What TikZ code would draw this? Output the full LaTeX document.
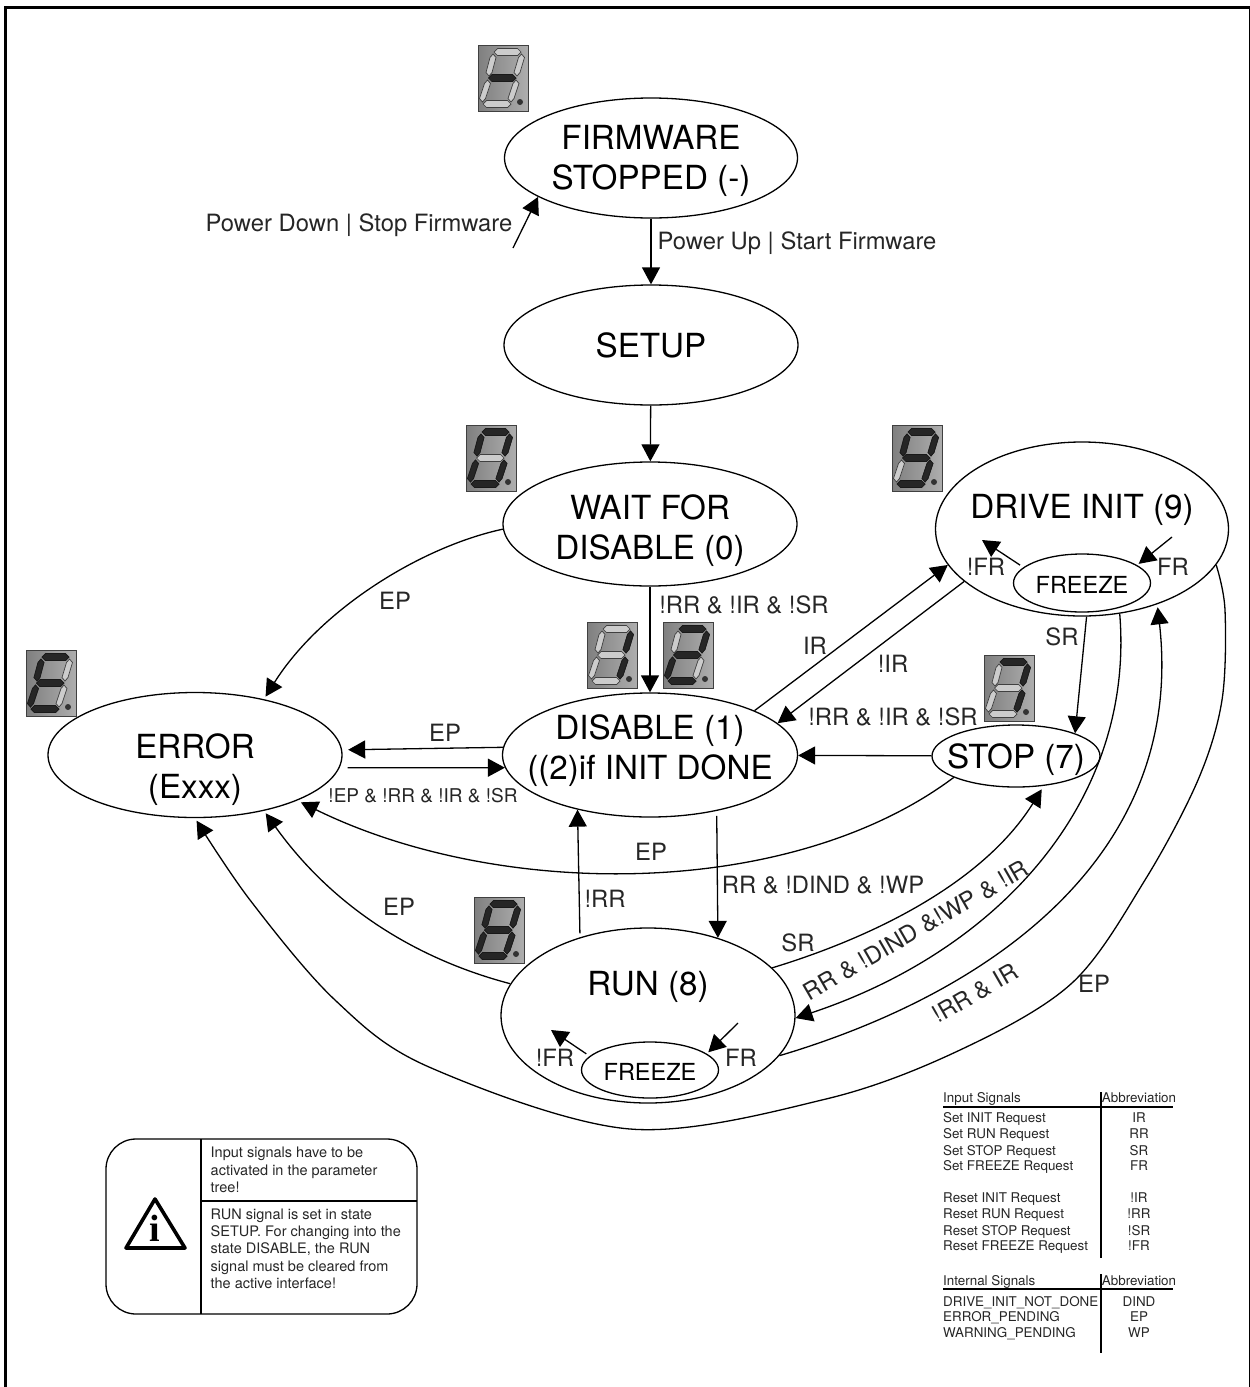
\documentclass[tikz,border=0pt]{standalone}
\usepackage{fontspec}
\setmainfont{TeX Gyre Heros}
\newfontfamily\infofont{Liberation Serif}
\usetikzlibrary{arrows.meta,shapes.geometric}

\newcommand{\statefont}{\fontsize{33.2}{40}\selectfont}
\newcommand{\frzfont}{\fontsize{23.5}{28}\selectfont}
\newcommand{\lblfont}{\fontsize{23.8}{29}\selectfont}
\newcommand{\tabfont}{\fontsize{13.4}{16}\selectfont}
\newcommand{\notefont}{\fontsize{14.5}{17.3}\selectfont}

% segments of a display: style, then end points
\newcommand{\hseg}[4]{\path[#1] (#2,#4) -- ({#2+3.5},{#4-3.5}) -- ({#3-3.5},{#4-3.5}) -- (#3,#4) -- ({#3-3.5},{#4+3.5}) -- ({#2+3.5},{#4+3.5}) -- cycle;}
\newcommand{\vseg}[5]{\path[#1] (#2,#3) -- ({#2+3},{#3+3.5}) -- ({#4+3},{#5-3.5}) -- (#4,#5) -- ({#4-3},{#5-3.5}) -- ({#2-3},{#3+3.5}) -- cycle;}
\newcommand{\segA}[1]{\hseg{#1}{16}{43}{7}}
\newcommand{\segB}[1]{\vseg{#1}{43.5}{9}{39}{31}}
\newcommand{\segC}[1]{\vseg{#1}{38}{35}{33}{57}}
\newcommand{\segD}[1]{\hseg{#1}{5}{33}{59}}
\newcommand{\segE}[1]{\vseg{#1}{9.5}{35}{4.5}{57}}
\newcommand{\segF}[1]{\vseg{#1}{15}{9}{11}{31}}
\newcommand{\segG}[1]{\hseg{#1}{10.5}{38}{33}}
% name, top left corner, lit segments
\newcommand{\segdisp}[3]{
  \begin{scope}[shift={(#2)}]
    \node[segbox] (#1) at (25,33) {};
    \foreach \s in {A,B,C,D,E,F,G} {\csname seg\s\endcsname{segoff}}
    \foreach \s in {#3} {\csname seg\s\endcsname{segon}}
    \fill[black!80] (42,57) circle (3);
  \end{scope}
}

\begin{document}
\begin{tikzpicture}[x=1pt,y=-1pt,>={Triangle[length=17pt,width=18pt]},
    segbox/.style={draw=black!75,line width=1pt,left color=black!50,right color=black!32,minimum width=50pt,minimum height=66pt,inner sep=0pt},
    segoff/.style={draw=black!75,line width=.7pt,fill=black!20},
    segon/.style={draw=black!90,line width=.7pt,fill=black!85},
    trans/.style={draw,->,line width=1.3pt},
    lbl/.style={font=\lblfont,text=black!85,inner sep=0pt,text height=17.2pt,text depth=0pt},
    tabtxt/.style={font=\tabfont,text=black!85,inner sep=0pt,text height=9.6pt,text depth=0pt}]

      \useasboundingbox (0,0) rectangle (1250,1387);
      \draw[line width=3pt] (5.5,1387) -- (5.5,7.5) -- (1250,7.5) -- (1250,1387);

      \segdisp{dispfw}{478,45}{G}
      \segdisp{dispwait}{466,425}{A,B,C,D,E,F}
      \segdisp{dispdisa}{587,622}{B,C}
      \segdisp{dispdisb}{663,622}{A,B,G,E,D}
      \segdisp{dispdrive}{892,425}{A,B,C,D,F,G}
      \segdisp{dispstop}{984,655}{A,B,C}
      \segdisp{disperr}{26,650}{A,D,E,F,G}
      \segdisp{disprun}{474,897}{A,B,C,D,E,F,G}

      \begin{scope}[every node/.style={ellipse,draw,line width=1.3pt,font=\statefont,align=center,inner sep=-30pt}]
        \node[minimum width=293pt,minimum height=120pt] (firmware) at (651,158) {\mbox{}\\[-10pt]FIRMWARE\\STOPPED (-)};
        \node[minimum width=294pt,minimum height=120pt] (setup) at (651,345) {SETUP};
        \node[minimum width=294pt,minimum height=124pt] (waitdis) at (650,524) {\mbox{}\\[-2pt]WAIT FOR\\DISABLE (0)};
        \node[minimum width=295pt,minimum height=124pt] (disable) at (650,755) {DISABLE (1)\\((2)if INIT DONE\\[-24pt]\mbox{}};
        \node[minimum width=294pt,minimum height=125pt] (error) at (195,755) {\mbox{}\\[14pt]ERROR\\(Exxx)};
        \node[minimum width=293pt,minimum height=174pt] (drive) at (1082,529) {DRIVE INIT (9)\\[6pt]\mbox{}};
        \node[minimum width=168pt,minimum height=62pt] (stop) at (1016,756) {\mbox{}\\[-8pt]STOP (7)};
        \node[minimum width=294pt,minimum height=175pt] (run) at (648,1015.5) {RUN (8)\\[24pt]\mbox{}};
        \node[minimum width=137pt,minimum height=58pt,font=\frzfont] (drivefrz) at (1082,583) {\mbox{}\\[-7pt]FREEZE};
        \node[minimum width=137pt,minimum height=56pt,font=\frzfont] (runfrz) at (650,1070) {\mbox{}\\[-7pt]FREEZE};
      \end{scope}

      \coordinate (powerdown) at (513,248);
      \coordinate (drivefrout) at (982,540);
      \coordinate (drivefrin) at (1172,537);
      \coordinate (runfrout) at (551,1030);
      \coordinate (runfrin) at (738,1023);

      \begin{scope}[every edge/.style={draw,->,line width=1.3pt}]
        \path (powerdown) edge (firmware.199.7);
        \path (firmware) edge (setup);
        \path (setup) edge (waitdis);
        \path (waitdis) edge (disable);
        \path (disable.177.3) edge[shorten >=6pt] (error.2.7);
        \path (error.-5.6) edge[shorten <=8pt] (disable.185.6);
        \path (stop) edge (disable);
        \path (disable.-40) edge[shorten <=5pt] (run.48.8);
        \path (run.131.2) edge[shorten <=4pt] (disable.217.9);
        \path (disable.23) edge (drive.195);
        \path (drive.204.8) edge (disable.14.5);
        \path (drive.273) edge (stop.21.8);
        \path (drivefrz.165) edge[shorten <=4pt] (drivefrout);
        \path (drivefrin) edge[shorten >=2pt] (drivefrz.18.7);
        \path (runfrz.167.5) edge[shorten <=4pt] (runfrout);
        \path (runfrin) edge[shorten >=2pt] (runfrz.16.6);
      \end{scope}

      \draw[trans,shorten >=3pt] (waitdis.182) .. controls (420,547) and (320,610) .. (error.39);
      \draw[trans,shorten >=4pt] (stop.-161) .. controls (790,900) and (500,900) .. (error.-24);
      \draw[trans,shorten >=3pt] (run.167) .. controls (420,960) and (335,910) .. (error.-39);
      \draw[trans,shorten >=4pt] (run.21) .. controls (880,935) and (985,880) .. (stop.-47.4);
      \draw[trans] (drive.-66) .. controls (1135,800) and (1000,950) .. (run.-1);
      \draw[trans,shorten >=3pt] (run.-17) .. controls (1000,990) and (1185,850) .. (drive.-45);
      \draw[trans,shorten >=3pt] plot[smooth,tension=0.55] coordinates {(drive.-15.6) (1225,610) (1222,700) (1198,780) (1145,880) (1072,983) (960,1050) (826,1099) (630,1129) (429,1067) (335,1000) (250,900) (error.-90)};

      \begin{scope}[every node/.style={lbl}]
        \node (lpowerdown) at (359,223) {Power Down | Stop Firmware};
        \node (lpowerup) at (797,241) {Power Up | Start Firmware};
        \node (lepwait) at (395,601) {EP};
        \node (lwaitdis) at (744,605) {!RR \& !IR \& !SR};
        \node (lir) at (815,646) {IR};
        \node (lnotir) at (893,664) {!IR};
        \node (lstopdis) at (893,717) {!RR \& !IR \& !SR};
        \node (lsrdrive) at (1062,637) {SR};
        \node (lnfrdrive) at (986,567) {!FR};
        \node (lfrdrive) at (1173,567) {FR};
        \node (lepdis) at (445,733) {EP};
        \node[font=\fontsize{19}{24}\selectfont,text height=13.7pt] (lclear) at (423,796) {!EP \& !RR \& !IR \& !SR};
        \node (lepstop) at (651,852) {EP};
        \node (lrundis) at (605,899) {!RR};
        \node (ldisrun) at (823,885) {RR \& !DIND \& !WP};
        \node (leprun) at (399,907) {EP};
        \node (lsrrun) at (798,943) {SR};
        \node[rotate=30] (ldriverun) at (916,930) {RR \& !DIND \&!WP \& !IR};
        \node[rotate=30] (lrundrive) at (975,993) {!RR \& IR};
        \node (lepdrive) at (1094,984) {EP};
        \node (lfrrun) at (741,1058) {FR};
        \node (lnfrrun) at (555,1058) {!FR};
      \end{scope}

      % note box
      \draw[line width=1.3pt,rounded corners=30pt] (106,1139) rectangle (417,1314);
      \draw[line width=1.3pt] (201,1139) -- (201,1314);
      \draw[line width=1.3pt] (201,1201) -- (417,1201);
      \draw[line width=3.6pt,line join=round] (155,1199) -- (185,1248) -- (126,1248) -- cycle;
      \node[font=\infofont\bfseries\fontsize{38}{38}\selectfont,inner sep=0pt] (infoi) at (155,1228) {i};
      \node[font=\notefont,text=black!85,align=left,anchor=north west,inner sep=0pt] (notea) at (210.5,1147) {Input signals have to be\\activated in the parameter\\tree!};
      \node[font=\notefont,text=black!85,align=left,anchor=north west,inner sep=0pt] (noteb) at (210.5,1208.5) {RUN signal is set in state\\SETUP. For changing into the\\state DISABLE, the RUN\\signal must be cleared from\\the active interface!};

      % signal tables
      \foreach \tname/\tabbr/\ty in {Input Signals/Abbreviation/1098,Set INIT Request/IR/1118,Set RUN Request/RR/1134,Set STOP Request/SR/1151,Set FREEZE Request/FR/1166,Reset INIT Request/!IR/1198,Reset RUN Request/!RR/1214,Reset STOP Request/!SR/1231,Reset FREEZE Request/!FR/1246,Internal Signals/Abbreviation/1281,DRIVE\_INIT\_NOT\_DONE/DIND/1302,ERROR\_PENDING/EP/1317,WARNING\_PENDING/WP/1333} {
        \node[tabtxt,anchor=west] (tn\ty) at (943,\ty) {\tname};
        \node[tabtxt] (ta\ty) at (1139,\ty) {\tabbr};
      }
      \draw[line width=1.2pt] (943,1107) -- (1173,1107);
      \draw[line width=1.2pt] (1101,1092) -- (1101,1258);
      \draw[line width=1.2pt] (943,1289) -- (1173,1289);
      \draw[line width=1.2pt] (1101,1274) -- (1101,1353);

    \end{tikzpicture}
\end{document}
